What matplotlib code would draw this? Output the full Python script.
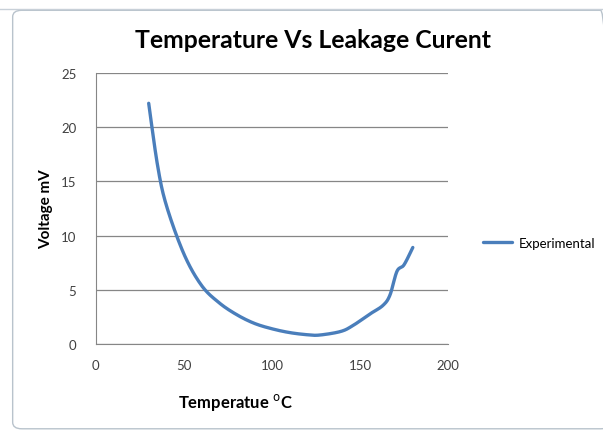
import numpy as np
import matplotlib.pyplot as plt
from matplotlib.patches import FancyBboxPatch

temp = [30, 35, 40, 50, 60, 70, 80, 90, 100, 110, 120, 127, 139, 146, 156, 163, 167, 171, 175, 180]
volt = [22.2, 16.5, 12.8, 8.3, 5.4, 3.8, 2.7, 1.9, 1.4, 1.05, 0.85, 0.82, 1.15, 1.7, 2.8, 3.55, 4.5, 6.7, 7.3, 8.9]
series_name = 'Experimental'
xticks = [0, 50, 100, 150, 200]
yticks = [0, 5, 10, 15, 20, 25]


def catmull(x, y, n=20):
    # smooth line through the points like Excel's "smoothed line"
    x = np.asarray(x, float)
    y = np.asarray(y, float)
    px = np.concatenate([[x[0]], x, [x[-1]]])
    py = np.concatenate([[y[0]], y, [y[-1]]])
    ox, oy = [], []
    for i in range(1, len(px) - 2):
        t = np.linspace(0, 1, n, endpoint=False)
        for arr, out in ((px, ox), (py, oy)):
            p0, p1, p2, p3 = arr[i - 1], arr[i], arr[i + 1], arr[i + 2]
            out.extend(0.5 * ((2 * p1) + (-p0 + p2) * t + (2 * p0 - 5 * p1 + 4 * p2 - p3) * t ** 2
                              + (-p0 + 3 * p1 - 3 * p2 + p3) * t ** 3))
    ox.append(x[-1])
    oy.append(y[-1])
    return np.array(ox), np.array(oy)


plt.rcParams['font.family'] = ['Lato', 'DejaVu Sans']

fig = plt.figure(figsize=(6.03, 4.35), dpi=100)
fig.patch.set_facecolor('white')

# chart frame
fig.patches.append(FancyBboxPatch((0.021, 0.012), 0.99, 0.962, boxstyle='round,pad=0,rounding_size=0.015',
                                  transform=fig.transFigure, fill=False, ec='#b9c3cc', lw=1.0))
fig.add_artist(plt.Line2D([0, 1], [0.978, 0.978], transform=fig.transFigure, color='#c8d0d8', lw=1))

ax = fig.add_axes([0.159, 0.207, 0.584, 0.623])
sx, sy = catmull(temp, volt)
ax.plot(sx, sy, color='#4a7ebb', lw=2.4, label=series_name, solid_capstyle='round')

ax.set_xlim(0, 200)
ax.set_ylim(0, 25)
ax.set_xticks(xticks)
ax.set_yticks(yticks)
ax.grid(axis='y', color='#868686', lw=0.9)
ax.set_axisbelow(True)
for s in ['top', 'right']:
    ax.spines[s].set_visible(False)
for s in ['left', 'bottom']:
    ax.spines[s].set_color('#868686')
ax.tick_params(colors='#868686', labelcolor='#404040', labelsize=9.5, length=0)
ax.tick_params(axis='y', pad=14)
ax.tick_params(axis='x', pad=11)

fig.text(0.519, 0.908, 'Temperature Vs Leakage Curent', fontsize=17.8, fontweight='bold',
         ha='center', va='center')
fig.text(0.391, 0.074, 'Temperatue $^{\\rm o}$C', fontsize=12, fontweight='bold',
         ha='center', va='center')
fig.text(0.076, 0.52, 'Voltage mV', fontsize=11, fontweight='bold', rotation=90,
         ha='center', va='center')

fig.legend(loc='center left', bbox_to_anchor=(0.782, 0.44), frameon=False, fontsize=9.5,
           handlelength=2.2, handletextpad=0.5)

fig.savefig('out.png', dpi=100)
